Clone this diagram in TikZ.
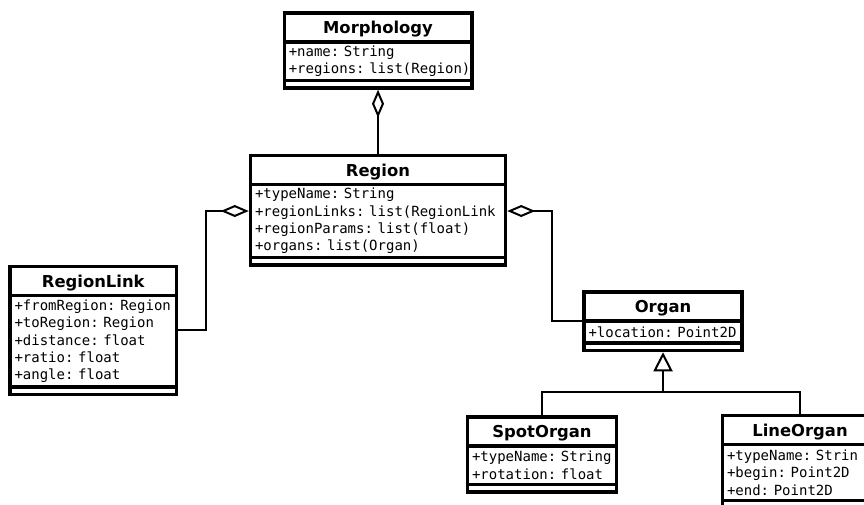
\documentclass[tikz,border=0pt]{standalone}
\usepackage{fontspec}
\setmonofont{DejaVu Sans Mono}[HyphenChar=None]
\newfontfamily\umlsans{DejaVu Sans}
\usetikzlibrary{positioning,arrows.meta}

\tikzset{
  classhead/.style={draw, line width=3.5pt, fill=white, outer sep=0pt, inner sep=0pt,
    minimum height=29pt, anchor=north west, text height=12pt, text depth=0pt,
    font=\umlsans\bfseries\fontsize{16.4}{19}\selectfont},
  classattr/.style={draw, line width=3.5pt, fill=white, outer sep=0pt, inner xsep=4.5pt,
    inner ysep=0pt, align=left, font=\ttfamily\fontsize{14}{17.4}\selectfont},
  classops/.style={draw, line width=3.5pt, fill=white, outer sep=0pt, inner sep=0pt,
    minimum height=7.5pt},
  aggr/.style={line width=2pt, shorten >=1.75pt, -{Diamond[open, length=28pt, width=12pt]}},
  inherit/.style={line width=2pt},
}

\begin{document}
\begin{tikzpicture}[x=1pt, y=-1pt]
    \useasboundingbox (0,0) rectangle (864,504);

    % Morphology
    \node[classhead, minimum width=187.5pt] (morphhead) at (284.25,13) {Morphology};
    \node[classattr, text width=178.5pt, minimum height=38.5pt, below=0pt of morphhead] (morphattr)
        {+name:~String\\+regions:~list(Region)};
    \node[classops, minimum width=187.5pt, below=0pt of morphattr] (morphops) {};

    % Region
    \node[classhead, minimum width=255pt] (regionhead) at (250.5,155.5) {Region};
    \node[classattr, text width=246pt, minimum height=73pt, below=0pt of regionhead] (regionattr)
        {+typeName:~String\\+regionLinks:~list(RegionLink\\+regionParams:~list(float)\\+organs:~list(Organ)};
    \node[classops, minimum width=255pt, below=0pt of regionattr] (regionops) {};

    % RegionLink
    \node[classhead, minimum width=166.5pt] (linkhead) at (10,266.5) {RegionLink};
    \node[classattr, text width=157.5pt, minimum height=91.5pt, below=0pt of linkhead] (linkattr)
        {+fromRegion:~Region\\+toRegion:~Region\\+distance:~float\\+ratio:~float\\+angle:~float};
    \node[classops, minimum width=166.5pt, below=0pt of linkattr] (linkops) {};

    % Organ
    \node[classhead, minimum width=158pt] (organhead) at (584,292) {Organ};
    \node[classattr, text width=149pt, minimum height=22pt, below=0pt of organhead] (organattr)
        {+location:~Point2D};
    \node[classops, minimum width=158pt, below=0pt of organattr] (organops) {};

    % SpotOrgan
    \node[classhead, minimum width=149pt] (spothead) at (467.5,417) {SpotOrgan};
    \node[classattr, text width=140pt, minimum height=38.5pt, below=0pt of spothead] (spotattr)
        {+typeName:~String\\+rotation:~float};
    \node[classops, minimum width=149pt, below=0pt of spotattr] (spotops) {};

    % LineOrgan
    \node[classhead, minimum width=155pt] (linehead) at (722.5,415.5) {LineOrgan};
    \node[classattr, text width=146pt, minimum height=56pt, below=0pt of linehead] (lineattr)
        {+typeName:~Strin\\+begin:~Point2D\\+end:~Point2D};
    \node[classops, minimum width=155pt, below=0pt of lineattr] (lineops) {};

    \coordinate (lhook) at (206,330);
    \coordinate (ljoin) at (206,211);
    \coordinate (rjoin) at (552,211);
    \coordinate (fork) at (663,392);

    \draw[aggr] (regionhead.north) -- (morphops.south);
    \draw[aggr] (linkattr.east |- lhook) -- (lhook) -- (ljoin) -- (regionattr.west |- ljoin);
    \draw[aggr] (organattr.north west) -| (rjoin) -- (regionattr.east |- rjoin);
    \draw[inherit] (spothead.north) |- (fork);
    \draw[inherit] (linehead.north) |- (fork);
    \draw[inherit, shorten >=1.75pt, -{Triangle[open, length=19pt, width=19pt]}] (fork) -- (organops.south);
\end{tikzpicture}
\end{document}
